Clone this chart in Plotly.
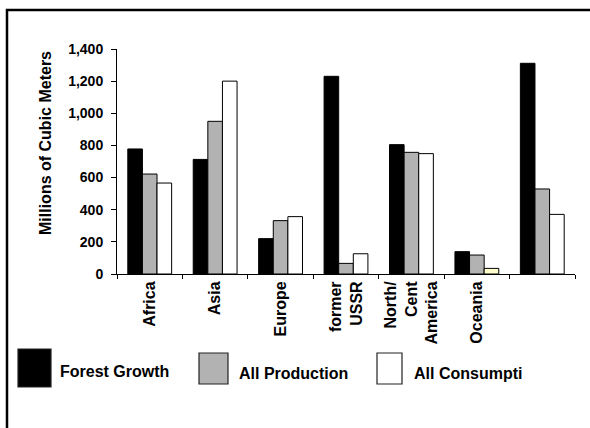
import plotly.graph_objects as go

# Regional wood balance, millions of cubic meters
regions = ["Africa", "Asia", "Europe", "former USSR", "North/Cent America",
           "Oceania", "South America"]
tick_text = ["Africa", "Asia", "Europe", "former<br>USSR",
             "North/<br>Cent<br>America", "Oceania", ""]
forest_growth = [778, 713, 220, 1230, 805, 139, 1311]
all_production = [622, 950, 332, 66, 757, 118, 529]
all_consumption = [566, 1200, 357, 126, 749, 35, 371]
y_ticks = [0, 200, 400, 600, 800, 1000, 1200, 1400]

W, H = 590, 428
ML, MR, MT, MB = 117, 15, 49, 154
PW, PH = W - ML - MR, H - MT - MB


def px(x):
    return (x - ML) / PW


def py(y):
    return (H - MB - y) / PH


def bold(s):
    if not s:
        return s
    return "<br>".join(f"<b>{part}</b>" for part in s.split("<br>"))


FONT = "Liberation Sans, Arial, sans-serif"
BLACK = "#000000"
GRAY = "#b2b2b2"
WHITE = "#ffffff"

consumption_colors = [WHITE] * len(regions)
consumption_colors[regions.index("Oceania")] = "#ffffcc"

fig = go.Figure()
fig.add_trace(go.Bar(name="Forest Growth", x=regions, y=forest_growth,
                     marker=dict(color=BLACK, line=dict(color=BLACK, width=1))))
fig.add_trace(go.Bar(name="All Production", x=regions, y=all_production,
                     marker=dict(color=GRAY, line=dict(color=BLACK, width=1))))
fig.add_trace(go.Bar(name="All Consumption", x=regions, y=all_consumption,
                     marker=dict(color=consumption_colors,
                                 line=dict(color=BLACK, width=1))))

fig.update_layout(
    width=W, height=H,
    margin=dict(l=ML, r=MR, t=MT, b=MB, autoexpand=False),
    paper_bgcolor="white", plot_bgcolor="white",
    barmode="group", bargap=0.33, bargroupgap=0,
    showlegend=False,
    font=dict(family=FONT, color=BLACK),
)

fig.update_xaxes(
    type="category", categoryorder="array", categoryarray=regions,
    tickmode="array", tickvals=regions,
    ticktext=[bold(t) for t in tick_text],
    tickangle=-90, tickson="boundaries",
    ticks="outside", ticklen=4, tickcolor=BLACK, tickwidth=1,
    showline=True, linecolor=BLACK, linewidth=1,
    showgrid=False, zeroline=False,
    tickfont=dict(family=FONT, size=16, color=BLACK),
)
fig.update_yaxes(
    range=[0, 1400], tickmode="array", tickvals=y_ticks,
    ticktext=[bold(f"{v:,d}") for v in y_ticks],
    ticks="outside", ticklen=5, tickcolor=BLACK, tickwidth=1,
    ticklabelstandoff=5,
    showline=True, linecolor=BLACK, linewidth=1,
    showgrid=False, zeroline=False,
    tickfont=dict(family=FONT, size=14, color=BLACK),
)

shapes = [
    # outer frame
    dict(type="rect", xref="paper", yref="paper",
         x0=px(7), x1=px(640), y0=py(10), y1=py(480),
         line=dict(color=BLACK, width=2.5), fillcolor="rgba(0,0,0,0)"),
]
legend_items = [
    ("Forest Growth", BLACK, (18, 51, 349, 387), 58, 371),
    ("All Production", GRAY, (199, 228, 353, 384), 237, 373),
    ("All Consumpti", WHITE, (377, 402, 353, 384), 412, 373),
]
annotations = [
    dict(text=bold("Millions of Cubic Meters"), textangle=-90,
         xref="paper", yref="paper", x=px(45), y=py(143),
         xanchor="center", yanchor="middle", showarrow=False,
         font=dict(family=FONT, size=16, color=BLACK)),
]
for label, color, (x0, x1, y0, y1), tx, ty in legend_items:
    shapes.append(dict(type="rect", xref="paper", yref="paper",
                       x0=px(x0), x1=px(x1), y0=py(y1), y1=py(y0),
                       fillcolor=color, line=dict(color="#222222", width=1.2)))
    annotations.append(dict(text=bold(label), xref="paper", yref="paper",
                            x=px(tx), y=py(ty), xanchor="left", yanchor="middle",
                            showarrow=False,
                            font=dict(family=FONT, size=16, color=BLACK)))

fig.update_layout(shapes=shapes, annotations=annotations)

fig.write_html("out.html")
